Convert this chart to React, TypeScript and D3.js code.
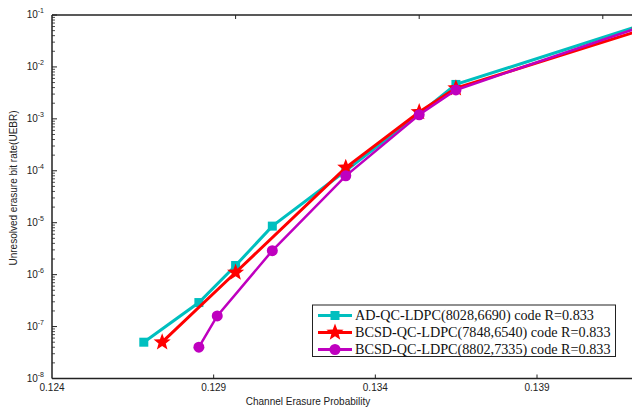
import React from "react";
import * as d3 from "d3";

const seriesNames = [
  "AD-QC-LDPC(8028,6690) code R=0.833",
  "BCSD-QC-LDPC(7848,6540) code R=0.833",
  "BCSD-QC-LDPC(8802,7335) code R=0.833",
];
const xAD = [0.1265, 0.128, 0.129, 0.13, 0.132, 0.134, 0.135, 0.14];
const yAD = [5e-8, 2.9e-7, 1.5e-6, 8.6e-6, 1.0e-4, 1.25e-3, 4.6e-3, 6.2e-2];
const xB1 = [0.127, 0.129, 0.132, 0.134, 0.135, 0.14];
const yB1 = [5e-8, 1.1e-6, 1.15e-4, 1.35e-3, 3.9e-3, 5.0e-2];
const xB2 = [0.128, 0.1285, 0.13, 0.132, 0.134, 0.135, 0.14];
const yB2 = [4e-8, 1.6e-7, 2.9e-6, 8e-5, 1.2e-3, 3.6e-3, 5.8e-2];
const bottomTicks = [0.124, 0.129, 0.134, 0.139];
const topTicks = [0.129, 0.134, 0.139];
const yExps = [-1, -2, -3, -4, -5, -6, -7, -8];

const W = 632, H = 410;
const L = 52, T = 15, B = 378.5;

const x = d3.scaleLinear().domain([0.124, 0.14]).range([L, L + 16 * 36.72]);
const xLab = d3.scaleLinear().domain([0.124, 0.139]).range([L, 537]);
const y = d3.scaleLog().domain([1e-8, 1e-1]).range([B, T]);

function starPath(cx: number, cy: number, R: number, r: number) {
  const pts: string[] = [];
  for (let i = 0; i < 10; i++) {
    const a = -Math.PI / 2 + (i * Math.PI) / 5;
    const rad = i % 2 === 0 ? R : r;
    pts.push(`${cx + rad * Math.cos(a)},${cy + rad * Math.sin(a)}`);
  }
  return "M" + pts.join("L") + "Z";
}

const colors = ["#00BFBF", "#FF0000", "#BF00BF"];

export default function App() {
  const line = d3.line<[number, number]>().x((d) => x(d[0])).y((d) => y(d[1]));
  const sAD = xAD.map((v, i) => [v, yAD[i]] as [number, number]);
  const sB1 = xB1.map((v, i) => [v, yB1[i]] as [number, number]);
  const sB2 = xB2.map((v, i) => [v, yB2[i]] as [number, number]);

  const minor: number[] = [];
  for (let e = -8; e < -1; e++) for (let k = 2; k <= 9; k++) minor.push(k * Math.pow(10, e));

  const fontAx = "'Liberation Sans', Arial, sans-serif";
  const fontLeg = "'Liberation Serif', 'Times New Roman', serif";

  const legRows = [315.5, 332.5, 349.5];
  const marker = (k: number, cx: number, cy: number) => {
    if (k === 0) return <rect x={cx - 4.5} y={cy - 4.5} width={9} height={9} fill={colors[0]} />;
    if (k === 1) return <path d={starPath(cx, cy, 9, 3.8)} fill={colors[1]} />;
    return <circle cx={cx} cy={cy} r={5.5} fill={colors[2]} />;
  };

  return (
    <svg width={W} height={H} style={{ position: "absolute", left: 0, top: 0, background: "#fff" }}>
      <defs>
        <clipPath id="plot">
          <rect x={L} y={T - 10} width={W - L} height={B - T + 10} />
        </clipPath>
      </defs>
      <g clipPath="url(#plot)">
        <path d={line(sAD)!} fill="none" stroke={colors[0]} strokeWidth={3} />
        {sAD.map((d, i) => <React.Fragment key={"a" + i}>{marker(0, x(d[0]), y(d[1]))}</React.Fragment>)}
        <path d={line(sB1)!} fill="none" stroke={colors[1]} strokeWidth={3} />
        {sB1.map((d, i) => <React.Fragment key={"b" + i}>{marker(1, x(d[0]), y(d[1]))}</React.Fragment>)}
        <path d={line(sB2)!} fill="none" stroke={colors[2]} strokeWidth={2.5} />
        {sB2.map((d, i) => <React.Fragment key={"c" + i}>{marker(2, x(d[0]), y(d[1]))}</React.Fragment>)}
      </g>
      {/* axes */}
      <g stroke="#222" fill="none">
        <line x1={L} x2={W} y1={T} y2={T} strokeWidth={1.5} />
        <line x1={L} x2={W} y1={B} y2={B} strokeWidth={1.5} />
        <line x1={L} x2={L} y1={T} y2={B} strokeWidth={1.5} />
        {bottomTicks.slice(1).map((t) => (
          <line key={"bt" + t} x1={xLab(t)} x2={xLab(t)} y1={B} y2={B - 4} strokeWidth={1} />
        ))}
        {topTicks.map((t) => (
          <line key={"tt" + t} x1={x(t)} x2={x(t)} y1={T} y2={T + 4} strokeWidth={1} />
        ))}
        {yExps.map((e) => (
          <line key={"yt" + e} x1={L} x2={L + 5} y1={y(Math.pow(10, e))} y2={y(Math.pow(10, e))} strokeWidth={1} />
        ))}
        {minor.map((m, i) => (
          <line key={"m" + i} x1={L} x2={L + 3} y1={y(m)} y2={y(m)} strokeWidth={0.8} />
        ))}
      </g>
      <g fontFamily={fontAx} fontSize={10} fill="#222">
        {bottomTicks.map((t) => (
          <text key={"bl" + t} x={xLab(t)} y={391} textAnchor="middle">{t.toFixed(3)}</text>
        ))}
        {yExps.map((e) => (
          <text key={"yl" + e} x={44} y={y(Math.pow(10, e)) + 3} textAnchor="end">
            10<tspan fontSize={7} dy={-5}>{e}</tspan>
          </text>
        ))}
        <text x={308} y={405} textAnchor="middle">Channel Erasure Probability</text>
        <text transform={`translate(17,${188}) rotate(-90)`} textAnchor="middle">Unresolved erasure bit rate(UEBR)</text>
      </g>
      {/* legend */}
      <rect x={312.5} y={305} width={303} height={51.5} fill="#fff" stroke="#222" strokeWidth={1} />
      {seriesNames.map((n, k) => (
        <g key={"lg" + k}>
          <line x1={318} x2={352} y1={legRows[k]} y2={legRows[k]} stroke={colors[k]} strokeWidth={3} />
          {marker(k, 335, legRows[k])}
          <text x={355} y={legRows[k] + 4.5} fontFamily={fontLeg} fontSize={14.2} fill="#111">{n}</text>
        </g>
      ))}
    </svg>
  );
}
